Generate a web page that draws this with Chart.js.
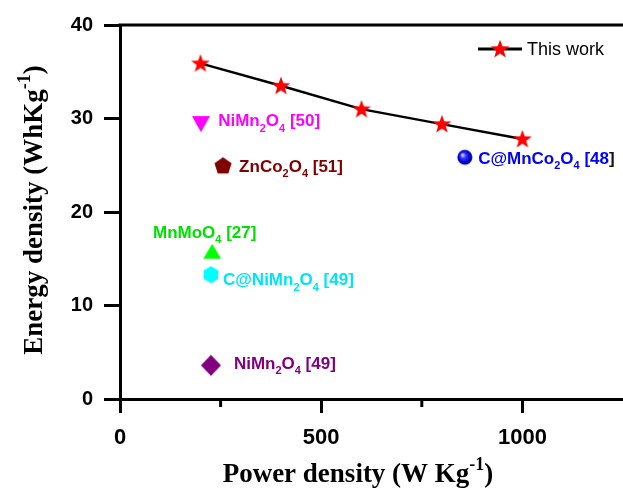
<!DOCTYPE html>
<html>
<head>
<meta charset="utf-8">
<script src="https://cdn.jsdelivr.net/npm/chart.js@4.4.1/dist/chart.umd.min.js"></script>
<style>
  html, body { margin: 0; padding: 0; background: #fff; overflow: hidden; }
  canvas { display: block; }
</style>
</head>
<body>
<canvas id="chart" width="623" height="488"></canvas>
<script>
// "This work" series
const workPower = [200, 400, 600, 800, 1000];
const workEnergy = [35.9, 33.5, 31.0, 29.4, 27.8];

// literature points
const refNames = ['NiMn_{2}O_{4} [50]', 'ZnCo_{2}O_{4} [51]', 'MnMoO_{4} [27]', 'C@NiMn_{2}O_{4} [49]', 'C@MnCo_{2}O_{4} [48]', 'NiMn_{2}O_{4} [49]'];
const refPower = [201, 256, 229, 226, 857, 226];
const refEnergy = [29.4, 25.0, 15.8, 13.3, 25.85, 3.6];
const refLabelPower = [244, 296, 82, 256, 890, 283];
const refLabelEnergy = [29.8, 24.9, 17.9, 12.8, 25.8, 3.85];
const refColors = ['#ff00ff', '#800000', '#00e000', '#00e5f5', '#0000ff', '#800080'];

const xMajor = [0, 500, 1000];
const xMinor = [250, 750];
const yTicks = [0, 10, 20, 30, 40];

const SANS = '"Liberation Sans", Arial, sans-serif';
const SERIF = '"Liberation Serif", "Times New Roman", serif';

function marker(size, draw) {
    const c = document.createElement('canvas');
    c.width = size; c.height = size;
    const g = c.getContext('2d');
    draw(g, size / 2);
    return c;
}

function poly(g, pts, fill) {
    g.beginPath();
    pts.forEach((p, i) => i ? g.lineTo(p[0], p[1]) : g.moveTo(p[0], p[1]));
    g.closePath();
    g.fillStyle = fill;
    g.fill();
}

function starPts(cx, cy, R, r) {
    const pts = [];
    for (let i = 0; i < 10; i++) {
        const a = -Math.PI / 2 + i * Math.PI / 5;
        const rad = i % 2 ? r : R;
        pts.push([cx + rad * Math.cos(a), cy + rad * Math.sin(a)]);
    }
    return pts;
}

const starImg = marker(22, (g, c) => poly(g, starPts(c, c + 0.5, 9.8, 4.0), '#ff0000'));

const refMarkers = [
    marker(20, (g, c) => poly(g, [[c - 9, c - 8], [c + 9, c - 8], [c, c + 8]], refColors[0])),
    marker(20, (g, c) => {
        const R = 9, pts = [];
        for (let i = 0; i < 5; i++) {
            const a = -Math.PI / 2 + i * 2 * Math.PI / 5;
            pts.push([c + R * Math.cos(a), c + 0.9 + R * Math.sin(a)]);
        }
        poly(g, pts, refColors[1]);
    }),
    marker(20, (g, c) => poly(g, [[c - 9, c + 7.5], [c + 9, c + 7.5], [c, c - 7.5]], '#00ff00')),
    marker(20, (g, c) => {
        const R = 8.5, pts = [];
        for (let i = 0; i < 6; i++) {
            const a = -Math.PI / 2 + i * Math.PI / 3;
            pts.push([c + R * Math.cos(a), c + R * Math.sin(a)]);
        }
        poly(g, pts, '#00ffff');
    }),
    marker(18, (g, c) => {
        const grd = g.createRadialGradient(c - 2.5, c - 2.5, 0.5, c, c, 7.5);
        grd.addColorStop(0, '#d8d8ff');
        grd.addColorStop(0.35, '#3030ff');
        grd.addColorStop(0.8, '#0000cc');
        grd.addColorStop(1, '#00006a');
        g.beginPath();
        g.arc(c, c, 7.5, 0, Math.PI * 2);
        g.fillStyle = grd;
        g.fill();
    }),
    marker(24, (g, c) => poly(g, [[c, c - 10.5], [c + 10, c], [c, c + 10.5], [c - 10, c]], refColors[5]))
];

// text with _{sub} and ^{sup} parts
function runs(str) {
    const out = [];
    const re = /([_^])\{([^}]*)\}/g;
    let last = 0, m;
    while ((m = re.exec(str))) {
        if (m.index > last) out.push({ t: str.slice(last, m.index), k: 0 });
        out.push({ t: m[2], k: m[1] === '_' ? 1 : -1 });
        last = re.lastIndex;
    }
    if (last < str.length) out.push({ t: str.slice(last), k: 0 });
    return out;
}

function runFont(r, size, family, weight) {
    const s = r.k ? Math.round(size * 0.65) : size;
    return weight + ' ' + s + 'px ' + family;
}

function runsWidth(g, str, size, family, weight) {
    let w = 0;
    runs(str).forEach(r => { g.font = runFont(r, size, family, weight); w += g.measureText(r.t).width; });
    return w;
}

function drawRuns(g, x, y, str, size, family, weight, color, lastColor) {
    g.textBaseline = 'alphabetic';
    g.textAlign = 'left';
    const list = runs(str);
    if (lastColor) {
        // the closing character gets its own colour
        const tail = list[list.length - 1];
        list[list.length - 1] = { t: tail.t.slice(0, -1), k: tail.k };
        list.push({ t: tail.t.slice(-1), k: tail.k, c: lastColor });
    }
    list.forEach(r => {
        g.font = runFont(r, size, family, weight);
        g.fillStyle = r.c || color;
        const dy = r.k === 1 ? size * 0.3 : r.k === -1 ? -size * 0.45 : 0;
        g.fillText(r.t, x, y + dy);
        x += g.measureText(r.t).width;
    });
}

const decor = {
    id: 'decor',
    afterDraw(chart) {
        const g = chart.ctx;
        const a = chart.chartArea;
        const xs = chart.scales.x, ys = chart.scales.y;
        g.save();
        // top frame line
        g.strokeStyle = '#000';
        g.lineWidth = 3;
        g.beginPath();
        g.moveTo(a.left - 1.5, a.top);
        g.lineTo(a.right, a.top);
        g.stroke();
        // minor x ticks
        xMinor.forEach(v => {
            const px = xs.getPixelForValue(v);
            g.beginPath();
            g.moveTo(px, a.bottom);
            g.lineTo(px, a.bottom + 8);
            g.stroke();
        });
        // point labels
        refNames.forEach((name, i) => {
            const px = xs.getPixelForValue(refLabelPower[i]);
            const py = ys.getPixelForValue(refLabelEnergy[i]);
            drawRuns(g, px, py + 17 * 0.36, name, 17, SANS, 'bold', refColors[i], i === 4 ? '#111' : null);
        });
        // legend
        const ly = a.top + 24;
        const lx = a.right - 145;
        g.lineWidth = 3;
        g.beginPath();
        g.moveTo(lx, ly);
        g.lineTo(lx + 44, ly);
        g.stroke();
        g.drawImage(starImg, lx + 22 - 11, ly - 11);
        g.font = '18px ' + SANS;
        g.fillStyle = '#000';
        g.textBaseline = 'middle';
        g.fillText('This work', lx + 49, ly + 1);
        // axis titles
        const xt = 'Power density (W Kg^{-1})';
        const xw = runsWidth(g, xt, 27, SERIF, 'bold');
        drawRuns(g, 358 - xw / 2, 482, xt, 27, SERIF, 'bold', '#000');
        const yt = 'Energy density (WhKg^{-1})';
        const yw = runsWidth(g, yt, 27, SERIF, 'bold');
        g.translate(42, 210);
        g.rotate(-Math.PI / 2);
        drawRuns(g, -yw / 2, 0, yt, 27, SERIF, 'bold', '#000');
        g.restore();
    }
};

new Chart(document.getElementById('chart').getContext('2d'), {
    type: 'scatter',
    data: {
        datasets: [{
            label: 'This work',
            data: workPower.map((x, i) => ({ x: x, y: workEnergy[i] })),
            showLine: true,
            borderColor: '#000',
            borderWidth: 2.5,
            pointStyle: starImg,
            order: 1
        }, {
            label: 'refs',
            data: refPower.map((x, i) => ({ x: x, y: refEnergy[i] })),
            pointStyle: refMarkers,
            order: 0
        }]
    },
    options: {
        responsive: false,
        animation: false,
        devicePixelRatio: 1,
        layout: { autoPadding: false, padding: { top: 25, right: 0, left: 0, bottom: 0 } },
        plugins: { legend: { display: false }, tooltip: { enabled: false } },
        scales: {
            x: {
                type: 'linear',
                min: 0,
                max: 1250,
                afterBuildTicks: s => { s.ticks = xMajor.map(v => ({ value: v })); },
                afterFit: s => { s.height = 89; },
                border: { color: '#000', width: 3 },
                grid: { drawOnChartArea: false, tickLength: 14, tickWidth: 3, tickColor: '#000' },
                ticks: { color: '#000', padding: 12, maxRotation: 0, callback: v => String(v), font: { family: SANS, size: 22, weight: 'bold' } }
            },
            y: {
                type: 'linear',
                min: 0,
                max: 40,
                afterBuildTicks: s => { s.ticks = yTicks.map(v => ({ value: v })); },
                afterFit: s => { s.width = 120; },
                border: { color: '#000', width: 3 },
                grid: { drawOnChartArea: false, tickLength: 16, tickWidth: 3, tickColor: '#000' },
                ticks: { color: '#000', padding: 11, callback: v => String(v), font: { family: SANS, size: 20, weight: 'bold' } }
            }
        }
    },
    plugins: [decor]
});
</script>
</body>
</html>
